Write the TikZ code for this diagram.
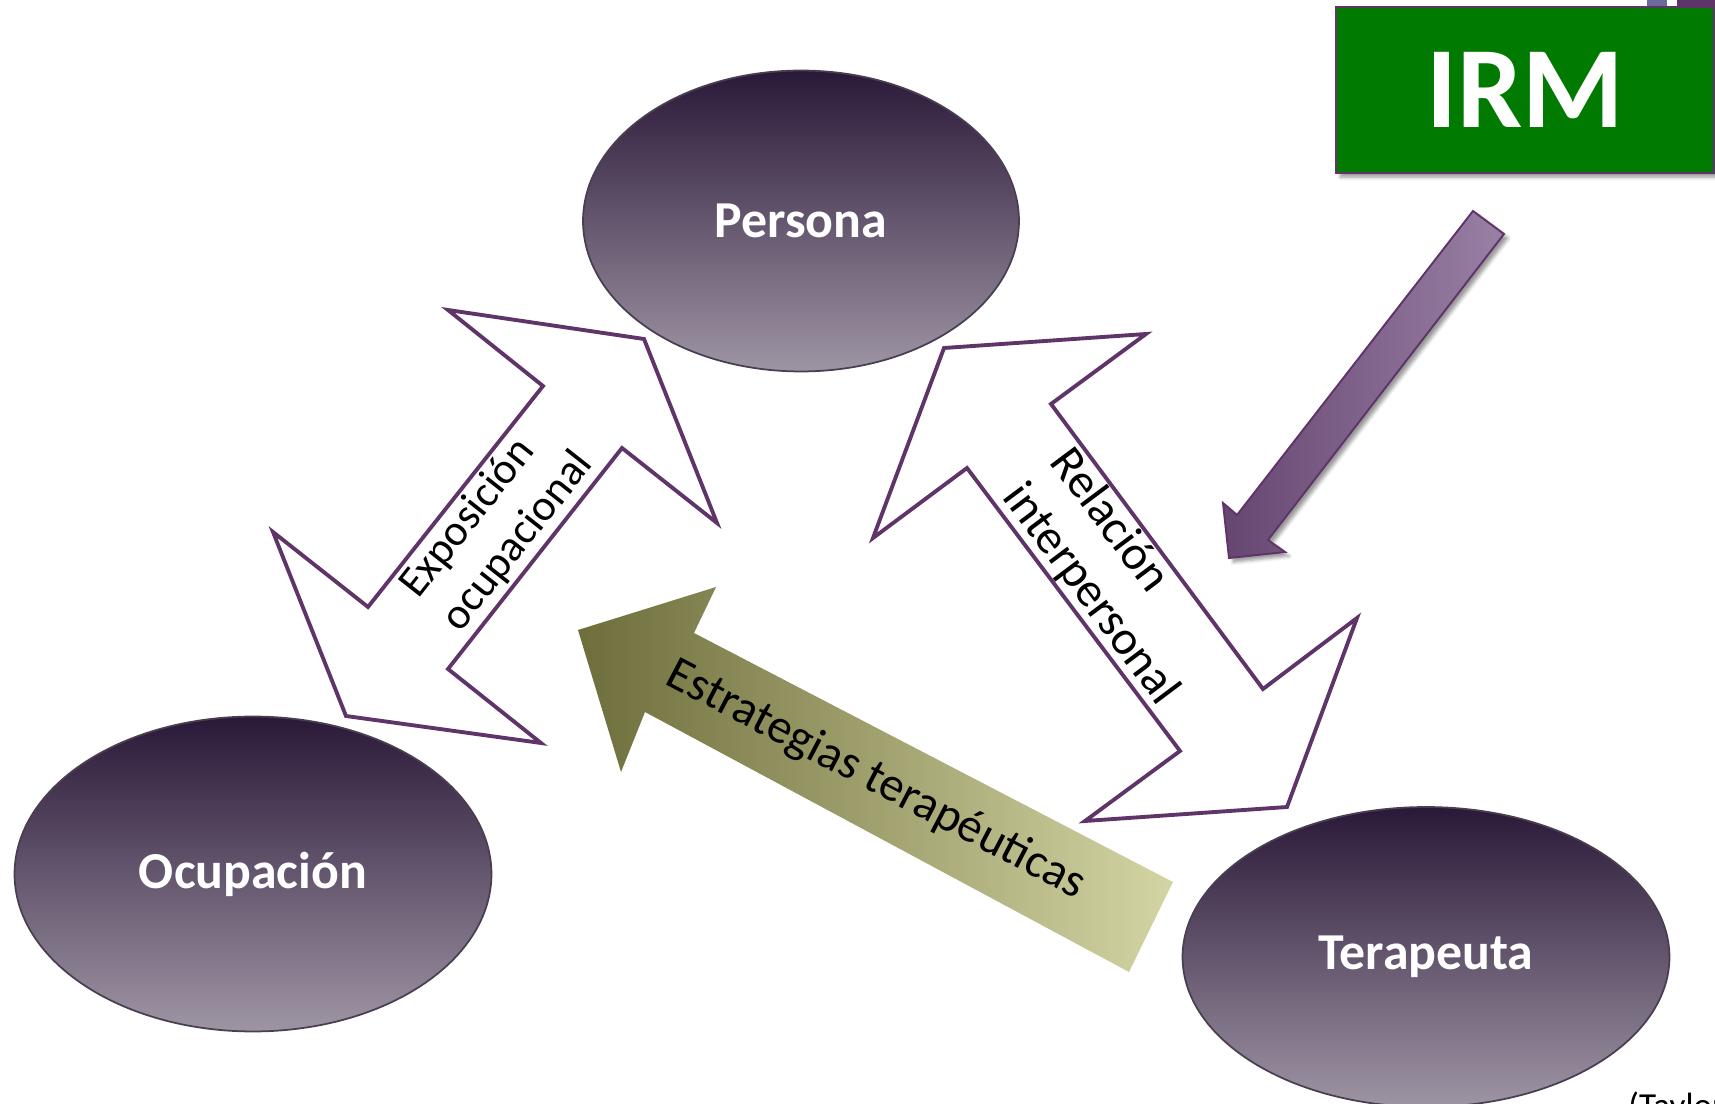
\documentclass[tikz,border=0pt]{standalone}
\usepackage{fontspec}
\setmainfont{Carlito}
\usepackage{tikz}
\usetikzlibrary{shapes.geometric,positioning,shadows.blur}

\definecolor{ellTop}{HTML}{2A1838}
\definecolor{ellBot}{HTML}{9E95A4}
\definecolor{ellRim}{HTML}{4A3F50}
\definecolor{arrowLine}{HTML}{5F3468}
\definecolor{irmGreen}{HTML}{007A00}
\definecolor{oliveDark}{HTML}{6E6D3C}
\definecolor{oliveLight}{HTML}{D4D5A4}
\definecolor{plumDark}{HTML}{664671}
\definecolor{plumLight}{HTML}{9A80A4}
\definecolor{slateBlue}{HTML}{6B6B9B}

\tikzset{
  every picture/.style = {
    x = 0.02cm,
    y = -0.02cm
  }
  ,
  element/.style = {
    ellipse,
    top color = ellTop,
    bottom color = ellBot,
    draw = ellRim,
    line width = 1pt,
    text = white,
    font = \fontsize{29.5}{35}\selectfont\bfseries,
    inner sep = 0pt
  }
  , % outlined two-way arrows
  double-arrow/.style = {
    draw = arrowLine,
    fill = white,
    line width = 2.2pt,
    line join = miter
  }
  , % text inside the arrows
  label-arrow/.style = {
    align = left,
    inner sep = 0pt,
    font = \fontsize{25}{30.5}\selectfont
  }
}

\begin{document}
\begin{tikzpicture}
\useasboundingbox (0,0) rectangle (1715,1104);

% the three elements
\node[element, minimum width=8.72cm, minimum height=6.02cm] (persona) at (801,221) {Persona};
\node[element, minimum width=9.54cm, minimum height=6.3cm] (ocupacion) at (253,874) {Ocupación};
\node[element, minimum width=9.74cm, minimum height=6cm] (terapeuta) at (1426,957) {Terapeuta};

% two-way arrows
\draw[double-arrow] (448,310) -- (644,339) -- (717,523) -- (622,448) -- (448,669) -- (541,743)
  -- (346,716) -- (273,532) -- (368,607) -- (543,386) -- cycle;
\node[label-arrow, rotate=51.7] (expo) at (497,525) {Exposición\\ocupacional};

\draw[double-arrow] (944,348) -- (1146,334) -- (1051,404) -- (1263,689) -- (1357,618) -- (1287,807)
  -- (1085,821) -- (1180,751) -- (967,468) -- (873,538) -- cycle;
\node[label-arrow, rotate=-53.2, font=\fontsize{27.5}{33.5}\selectfont] (relacion) at (1114,577) {Relación\\interpersonal};

% strategies arrow
\shade[left color=oliveDark, right color=oliveLight] (578,630) -- (716,587) -- (694,633) -- (1173,882)
  -- (1129,972) -- (645,712) -- (621,772) -- cycle;
\node[rotate=-27.6, font=\fontsize{27.5}{32}\selectfont] (estrategias) at (876,780) {Estrategias terapéuticas};

% IRM
\fill[slateBlue] (1647,0) rectangle (1667,6);
\fill[arrowLine] (1677,0) rectangle (1715,7);
\node[draw=arrowLine, line width=1.2pt, fill=irmGreen, text=white, font=\fontsize{66}{70}\selectfont\bfseries,
  minimum width=7.56cm, minimum height=3.32cm, blur shadow] (irm) at (1525,90) {IRM};
\draw[draw=arrowLine, line width=1.1pt, left color=plumDark, right color=plumLight, blur shadow]
  (1473,211) -- (1504,234) -- (1268,540) -- (1285,552) -- (1229,558) -- (1223,503) -- (1237,515) -- cycle;

\node[anchor=north west, inner sep=0pt, font=\fontsize{20}{24}\selectfont] (cita) at (1628,1091) {(Taylor};
\end{tikzpicture}
\end{document}
